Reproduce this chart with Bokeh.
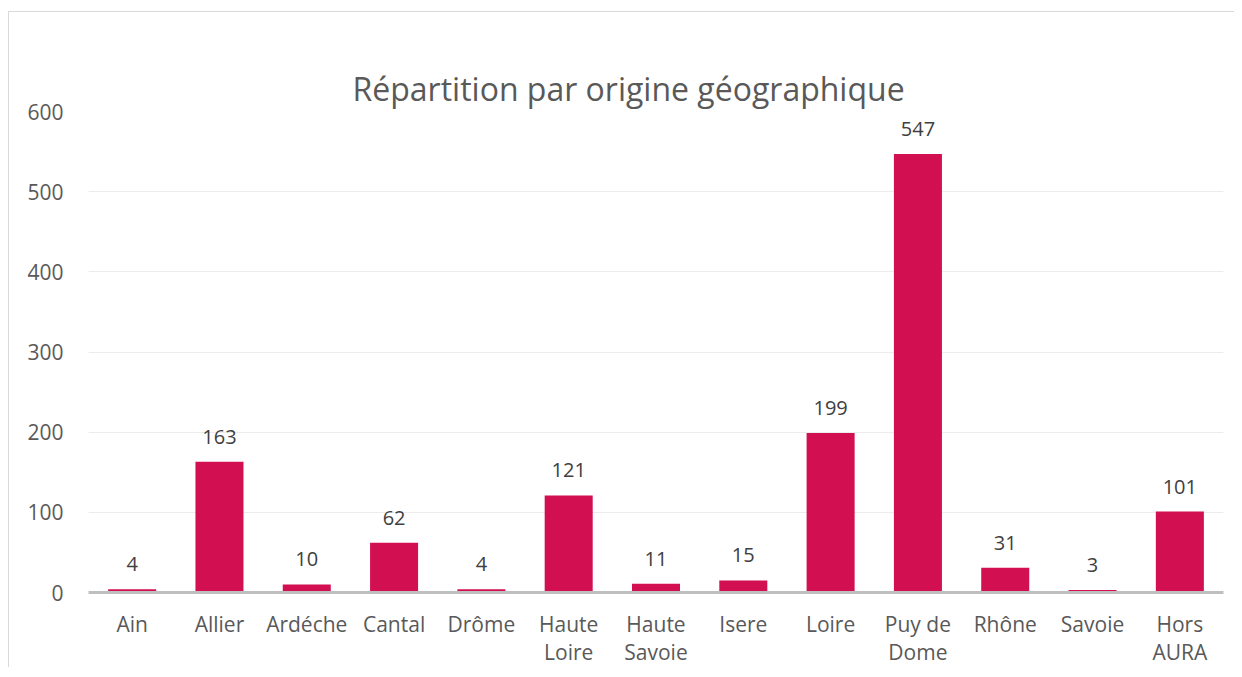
from bokeh.plotting import figure
from bokeh.models import ColumnDataSource, LabelSet, FactorRange, Range1d, SingleIntervalTicker, Title
from bokeh.core.properties import value
from bokeh.embed import file_html
from bokeh.resources import INLINE

categories = ["Ain", "Allier", "Ardéche", "Cantal", "Drôme", "Haute\nLoire", "Haute\nSavoie",
              "Isere", "Loire", "Puy de\nDome", "Rhône", "Savoie", "Hors\nAURA"]
values = [4, 163, 10, 62, 4, 121, 11, 15, 199, 547, 31, 3, 101]
title_text = "Répartition par origine géographique"

source = ColumnDataSource(data=dict(cat=categories, val=values, lab=[str(v) for v in values]))

FONT = "Open Sans"
GRAY = "#595959"

p = figure(width=1226, height=656, x_range=FactorRange(*categories), y_range=Range1d(0, 600),
           output_backend="svg", toolbar_location=None, title=title_text,
           min_border_left=79, min_border_right=12, min_border_bottom=60, min_border_top=99)

p.vbar(x="cat", top="val", width=0.55, source=source, color="#D20F50", line_color=None)

labels = LabelSet(x="cat", y="val", text="lab", source=source, text_align="center",
                  text_baseline="alphabetic", y_offset=18, text_font=value(FONT),
                  text_font_size="20px", text_color="#404040")
p.add_layout(labels)

# invisible spacer between the title and the plot area
spacer = Title(text=" ", text_font_size="1px", standoff=29, text_color=None)
p.add_layout(spacer, "above")

p.title.text_font = FONT
p.title.text_font_size = "32px"
p.title.text_font_style = "normal"
p.title.text_color = GRAY
p.title.align = "left"
p.title.offset = 264
p.title.vertical_align = "bottom"
p.title.standoff = 4

p.outline_line_color = None
p.xgrid.grid_line_color = None
p.ygrid.grid_line_color = "#ececec"
p.ygrid.grid_line_width = 1
p.yaxis.ticker = SingleIntervalTicker(interval=100)
p.yaxis.axis_line_color = None
p.yaxis.major_tick_line_color = None
p.yaxis.minor_tick_line_color = None
p.yaxis.major_label_text_font = FONT
p.yaxis.major_label_text_font_size = "21px"
p.yaxis.major_label_text_color = GRAY
p.yaxis.major_label_standoff = 19

p.xaxis.axis_line_color = "#bfbfbf"
p.xaxis.axis_line_width = 3
p.xaxis.major_tick_line_color = None
p.xaxis.minor_tick_line_color = None
p.xaxis.major_label_text_font = FONT
p.xaxis.major_label_text_font_size = "21px"
p.xaxis.major_label_text_line_height = 1.0
p.xaxis.major_label_text_color = GRAY
p.xaxis.major_label_standoff = 11
p.x_range.range_padding = 0

p.styles = {"margin-left": "8px", "margin-top": "11px",
            "border-left": "1px solid #d9d9d9", "border-top": "1px solid #d9d9d9"}

open("out.html", "w").write(file_html(p, INLINE))
